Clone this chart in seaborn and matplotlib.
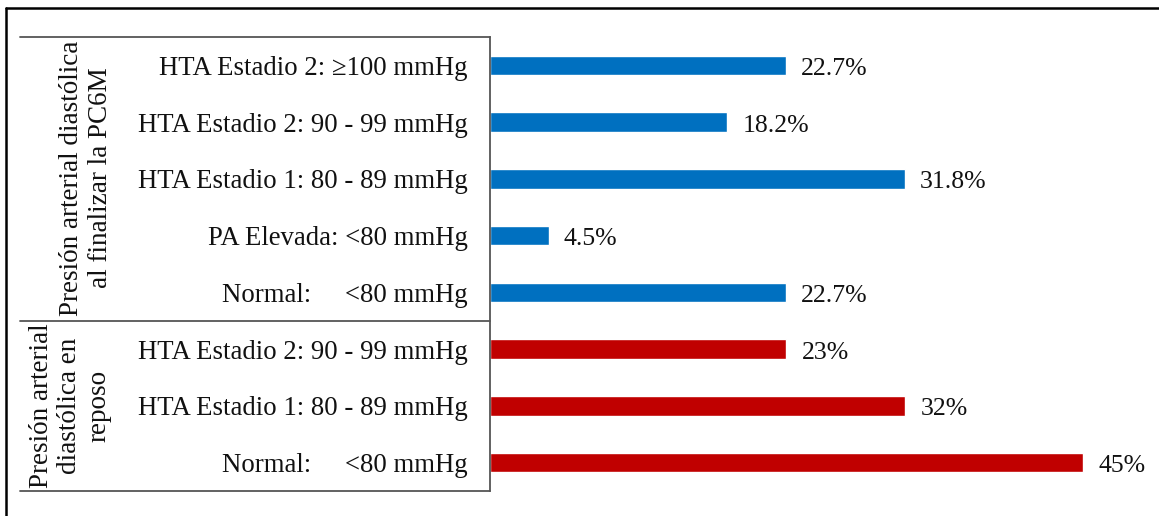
import matplotlib
matplotlib.use("Agg")
import matplotlib.pyplot as plt
from matplotlib.lines import Line2D
import seaborn as sns
import pandas as pd

# ---- data ----
group_final = "Presión arterial diastólica\nal finalizar la PC6M"
group_rest = "Presión arterial\ndiastólica en\nreposo"

labels_final = [
    "HTA Estadio 2: \u2265100 mmHg",
    "HTA Estadio 2: 90 - 99 mmHg",
    "HTA Estadio 1: 80 - 89 mmHg",
    "PA Elevada: <80 mmHg",
    "Normal:     <80 mmHg",
]
values_final = [22.7, 18.2, 31.8, 4.5, 22.7]

labels_rest = [
    "HTA Estadio 2: 90 - 99 mmHg",
    "HTA Estadio 1: 80 - 89 mmHg",
    "Normal:     <80 mmHg",
]
values_rest = [22.73, 31.82, 45.45]

color_final = "#0070C0"
color_rest = "#C00000"

# ---- build table ----
keys = [f"f{i}" for i in range(len(labels_final))] + [f"r{i}" for i in range(len(labels_rest))]
df = pd.DataFrame({
    "key": keys,
    "label": labels_final + labels_rest,
    "value": values_final + values_rest,
    "group": ["final"] * len(labels_final) + ["rest"] * len(labels_rest),
})

sns.set_theme(style="white")
plt.rcParams["font.family"] = ["Liberation Serif", "DejaVu Serif"]

W, H = 1159, 516
fig = plt.figure(figsize=(W / 100, H / 100), dpi=100)
ax_left, ax_right, ax_top, ax_bot = 490, 1150, 37, 491
ax = fig.add_axes([ax_left / W, (H - ax_bot) / H, (ax_right - ax_left) / W, (ax_bot - ax_top) / H])

sns.barplot(data=df, x="value", y="key", hue="group", order=keys,
            palette={"final": color_final, "rest": color_rest},
            dodge=False, width=0.34, legend=False, ax=ax, orient="h",
            saturation=1)

ax.set_xlim(0, 50.6)
ax.set_ylim(len(keys) - 0.5, -0.5)
ax.set_yticks(range(len(keys)))
ax.set_yticklabels(df["label"], fontsize=19.3, color="#111111")
ax.tick_params(axis="y", length=0, pad=16)
ax.set_xlabel("")
ax.set_ylabel("")
ax.xaxis.set_visible(False)
for s in ["top", "right", "bottom"]:
    ax.spines[s].set_visible(False)
ax.spines["left"].set_color("#555555")
ax.spines["left"].set_linewidth(1.3)

fmt = {"final": "{:.1f}%", "rest": "{:.0f}%"}
for cont in ax.containers:
    vals = cont.datavalues
    labs = []
    for k, v in zip(keys, vals):
        pass
    # determine group by color of first valid bar
    labels = []
    for patch, v in zip(cont.patches, vals):
        if v != v:
            labels.append("")
            continue
        grp = "final" if matplotlib.colors.to_hex(patch.get_facecolor()).lower() == color_final.lower() else "rest"
        labels.append(fmt[grp].format(v))
    texts = ax.bar_label(cont, labels=labels, padding=11, fontsize=18.5, color="#111111")
    for t in texts:
        t.xyann = (11, -2.5)

# table lines
def px_line(x0, y0, x1, y1, **kw):
    fig.add_artist(Line2D([x0 / W, x1 / W], [1 - y0 / H, 1 - y1 / H],
                          transform=fig.transFigure, **kw))

for yy in [37, 321, 491]:
    px_line(20, yy, 490, yy, color="#555555", lw=1.3)

# outer border (left and top)
px_line(6, 7.5, W, 7.5, color="black", lw=1.8)
px_line(6, 7.5, 6, H, color="black", lw=1.8)

# group labels
fig.text(86 / W, 1 - 178 / H, group_final, rotation=90, ha="center", va="center",
         fontsize=19.5, linespacing=1.2, color="#111111", multialignment="center")
fig.text(70 / W, 1 - 406 / H, group_rest, rotation=90, ha="center", va="center",
         fontsize=19.5, linespacing=1.2, color="#111111", multialignment="center")

fig.savefig("out.png", dpi=100, facecolor="white")
